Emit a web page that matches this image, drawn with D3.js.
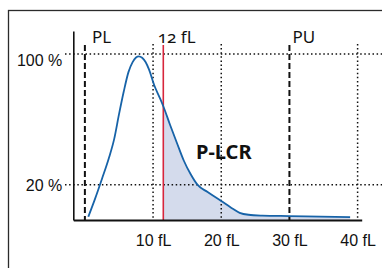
<!DOCTYPE html>
<html>
<head>
<meta charset="utf-8">
<script src="https://cdn.jsdelivr.net/npm/d3@7"></script>
<style>
  body { margin: 0; background: #fff; }
  svg { display: block; font-family: "Noto Sans", "Open Sans", sans-serif; font-variant-numeric: oldstyle-nums; }
</style>
</head>
<body>
<svg id="chart"></svg>
<script>

// platelet volume distribution
var sizes = [0.5, 1.5, 2.5, 3.5, 4.3, 5.0, 5.7, 6.4, 7.0, 7.5, 7.9, 8.4, 8.9, 9.4, 10.2, 11.0, 11.5, 12.5, 13.5, 14.5, 15.5, 16.5, 18.0, 20.0, 21.5, 22.7, 24.0, 26.0, 30.0, 38.9]
var freq  = [0.4, 11.5, 23.5, 36.0, 48.0, 63.0, 77.0, 89.0, 95.0, 97.8, 98.5, 97.6, 95.0, 90.5, 80.5, 73.0, 68.0, 56.5, 45.5, 34.8, 26.5, 20.0, 15.5, 10.0, 5.8, 2.8, 1.6, 1.1, 0.8, 0.2]

var xTicks = [10, 20, 30, 40]
var yTicks = [20, 100]
var gridX = [10, 20, 40]

var limitNames = ["PL", "PU"]
var limitValues = [0, 30]

var threshold = 11.5
var thresholdLabel = "12 fL"
var areaLabel = "P-LCR"

var dimensions = ({
    width: 382,
    height: 268
})

var svg = d3.select("#chart")
    .attr("width", dimensions.width)
    .attr("height", dimensions.height)

var xScale = d3.scaleLinear()
    .domain([-1.7, 40.6])
    .range([73.3, 361.7])

var yScale = d3.scaleLinear()
    .domain([-1.6, 114])
    .range([220, 31])

var data = sizes.map(function(d, i){ return {x: d, y: freq[i]} })

// outer frame, runs off the right and bottom edges
svg.append("rect")
    .attr("x", 8.5).attr("y", 10.5)
    .attr("width", 400).attr("height", 300)
    .attr("fill", "none")
    .attr("stroke", "#2b2b2b")
    .attr("stroke-width", 1.3)

// shaded P-LCR area
var area = d3.area()
    .x(function(d){ return xScale(d.x) })
    .y0(yScale.range()[0])
    .y1(function(d){ return yScale(d.y) })
    .curve(d3.curveMonotoneX)

svg.append("path")
    .datum(data.filter(function(d){ return d.x >= threshold }))
    .attr("d", area)
    .attr("fill", "#d4dbec")

// dotted grid
svg.selectAll(".hgrid")
    .data(yTicks)
    .enter()
    .append("line")
    .attr("x1", 65).attr("x2", dimensions.width)
    .attr("y1", function(d){ return yScale(d) })
    .attr("y2", function(d){ return yScale(d) })
    .attr("stroke", "#111")
    .attr("stroke-width", 1.5)
    .attr("stroke-dasharray", "1.5,2.6")

svg.selectAll(".vgrid")
    .data(gridX)
    .enter()
    .append("line")
    .attr("x1", function(d){ return xScale(d) })
    .attr("x2", function(d){ return xScale(d) })
    .attr("y1", 44).attr("y2", yScale.range()[0])
    .attr("stroke", "#111")
    .attr("stroke-width", 1.5)
    .attr("stroke-dasharray", "1.5,2.6")

// PL / PU dashed limits
svg.selectAll(".limit")
    .data(limitValues)
    .enter()
    .append("line")
    .attr("x1", function(d){ return xScale(d) })
    .attr("x2", function(d){ return xScale(d) })
    .attr("y1", 45).attr("y2", yScale.range()[0])
    .attr("stroke", "#111")
    .attr("stroke-width", 2)
    .attr("stroke-dasharray", "6,3")

svg.selectAll(".limitText")
    .data(limitNames)
    .enter()
    .append("text")
    .attr("x", function(d, i){ return xScale(limitValues[i]) + (i == 0 ? 7 : 3) })
    .attr("y", 42.5)
    .attr("font-size", 17)
    .attr("fill", "#111")
    .text(function(d){ return d })

// 12 fL threshold
svg.append("line")
    .attr("x1", xScale(threshold)).attr("x2", xScale(threshold))
    .attr("y1", 45).attr("y2", yScale.range()[0])
    .attr("stroke", "#d7263d")
    .attr("stroke-width", 1.6)

svg.append("text")
    .attr("x", xScale(threshold) - 5.5)
    .attr("y", 42.5)
    .attr("font-size", 17)
    .attr("fill", "#111")
    .text(thresholdLabel)

// distribution curve
var line = d3.line()
    .x(function(d){ return xScale(d.x) })
    .y(function(d){ return yScale(d.y) })
    .curve(d3.curveMonotoneX)

svg.append("path")
    .datum(data)
    .attr("d", line)
    .attr("fill", "none")
    .attr("stroke", "#1763a8")
    .attr("stroke-width", 1.8)

svg.append("text")
    .attr("x", xScale(16.3))
    .attr("y", yScale(35.5))
    .attr("font-size", 20)
    .attr("font-weight", "bold")
    .attr("fill", "#111")
    .text(areaLabel)

// axes
var xAxis = d3.axisBottom(xScale)
    .tickValues(xTicks)
    .tickSize(0)
    .tickSizeOuter(0)
    .tickPadding(15)
    .tickFormat(function(d){ return d + " fL" })

var gx = svg.append("g")
    .attr("transform", "translate(0," + yScale.range()[0] + ")")
    .call(xAxis)
gx.select(".domain").attr("stroke", "#111").attr("stroke-width", 2)
gx.selectAll("text").attr("font-size", 16).attr("font-family", null).attr("fill", "#111")

var yAxis = d3.axisLeft(yScale)
    .tickValues(yTicks)
    .tickSize(0)
    .tickSizeOuter(0)
    .tickPadding(11)
    .tickFormat(function(d){ return d + " %" })

var gy = svg.append("g")
    .attr("transform", "translate(" + xScale.range()[0] + ",0)")
    .call(yAxis)
gy.select(".domain").attr("stroke", "#111").attr("stroke-width", 1.6)
gy.selectAll("text")
    .attr("font-size", 16)
    .attr("font-family", null)
    .attr("fill", "#111")
    .attr("dy", function(d){ return d == 100 ? "0.73em" : "0.37em" })

</script>
</body>
</html>
